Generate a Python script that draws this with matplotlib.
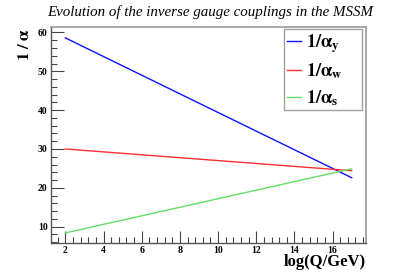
import numpy as np
import matplotlib.pyplot as plt
from matplotlib.ticker import MultipleLocator

# log10(Q/GeV) and inverse couplings (one-loop, straight lines)
logq = [2, 17]
inv_alpha_y = [58.6, 22.6]
inv_alpha_w = [30.0, 24.4]
inv_alpha_s = [8.4, 24.9]

plt.rcParams['font.family'] = ['Liberation Serif', 'DejaVu Serif']
plt.rcParams['mathtext.fontset'] = 'stix'

fig = plt.figure(figsize=(4.07, 2.76), dpi=100)
ax = fig.add_axes([51 / 407, 1 - 243 / 276, 315 / 407, 216 / 276])

ax.plot(logq, inv_alpha_y, color='#1010ff', lw=1.0, label=r'$\mathbf{1/\alpha_y}$')
ax.plot(logq, inv_alpha_w, color='#ff3030', lw=1.0, label=r'$\mathbf{1/\alpha_w}$')
ax.plot(logq, inv_alpha_s, color='#66dd66', lw=1.0, label=r'$\mathbf{1/\alpha_s}$')

ax.set_xlim(1.25, 17.75)
ax.set_ylim(5.8, 61.4)
ax.xaxis.set_major_locator(MultipleLocator(2))
ax.xaxis.set_minor_locator(MultipleLocator(0.4))
ax.yaxis.set_major_locator(MultipleLocator(10))
ax.yaxis.set_minor_locator(MultipleLocator(2))
ax.tick_params(which='both', direction='in', top=False, right=False,
               color='#444444', labelsize=7, pad=2.5)
ax.tick_params(axis='x', pad=2)
ax.tick_params(which='major', length=9, width=0.8)
ax.tick_params(which='minor', length=4.5, width=0.8)
for lab in ax.get_xticklabels() + ax.get_yticklabels():
    lab.set_fontweight('bold')
for side in ['left', 'bottom']:
    ax.spines[side].set_color('#555555')
    ax.spines[side].set_linewidth(1.0)
for side in ['top', 'right']:
    ax.spines[side].set_color('#999999')
    ax.spines[side].set_linewidth(1.2)

fig.text(210 / 407, 1 - 12 / 276, 'Evolution of the inverse gauge couplings in the MSSM',
         ha='center', va='center', style='italic', fontsize=10.8)
fig.text(25 / 407, 1 - 44 / 276, r'$\mathbf{1\ /\ \alpha}$', rotation=90,
         ha='center', va='center', fontsize=12)
fig.text(366 / 407, 1 - 254 / 276, 'log(Q/GeV)', ha='right', va='top',
         fontsize=12, fontweight='bold')

leg = ax.legend(loc='upper left',
                bbox_to_anchor=(284 / 407, 1 - 110 / 276, 78 / 407, 81 / 276),
                bbox_transform=fig.transFigure, mode='expand', fontsize=13,
                frameon=True, fancybox=False, handlelength=0.8,
                handletextpad=0.25, labelspacing=0.38, borderpad=0.15,
                borderaxespad=0)
leg.get_frame().set_edgecolor('#888888')
leg.get_frame().set_linewidth(1.0)

fig.savefig('out.png', dpi=100)
